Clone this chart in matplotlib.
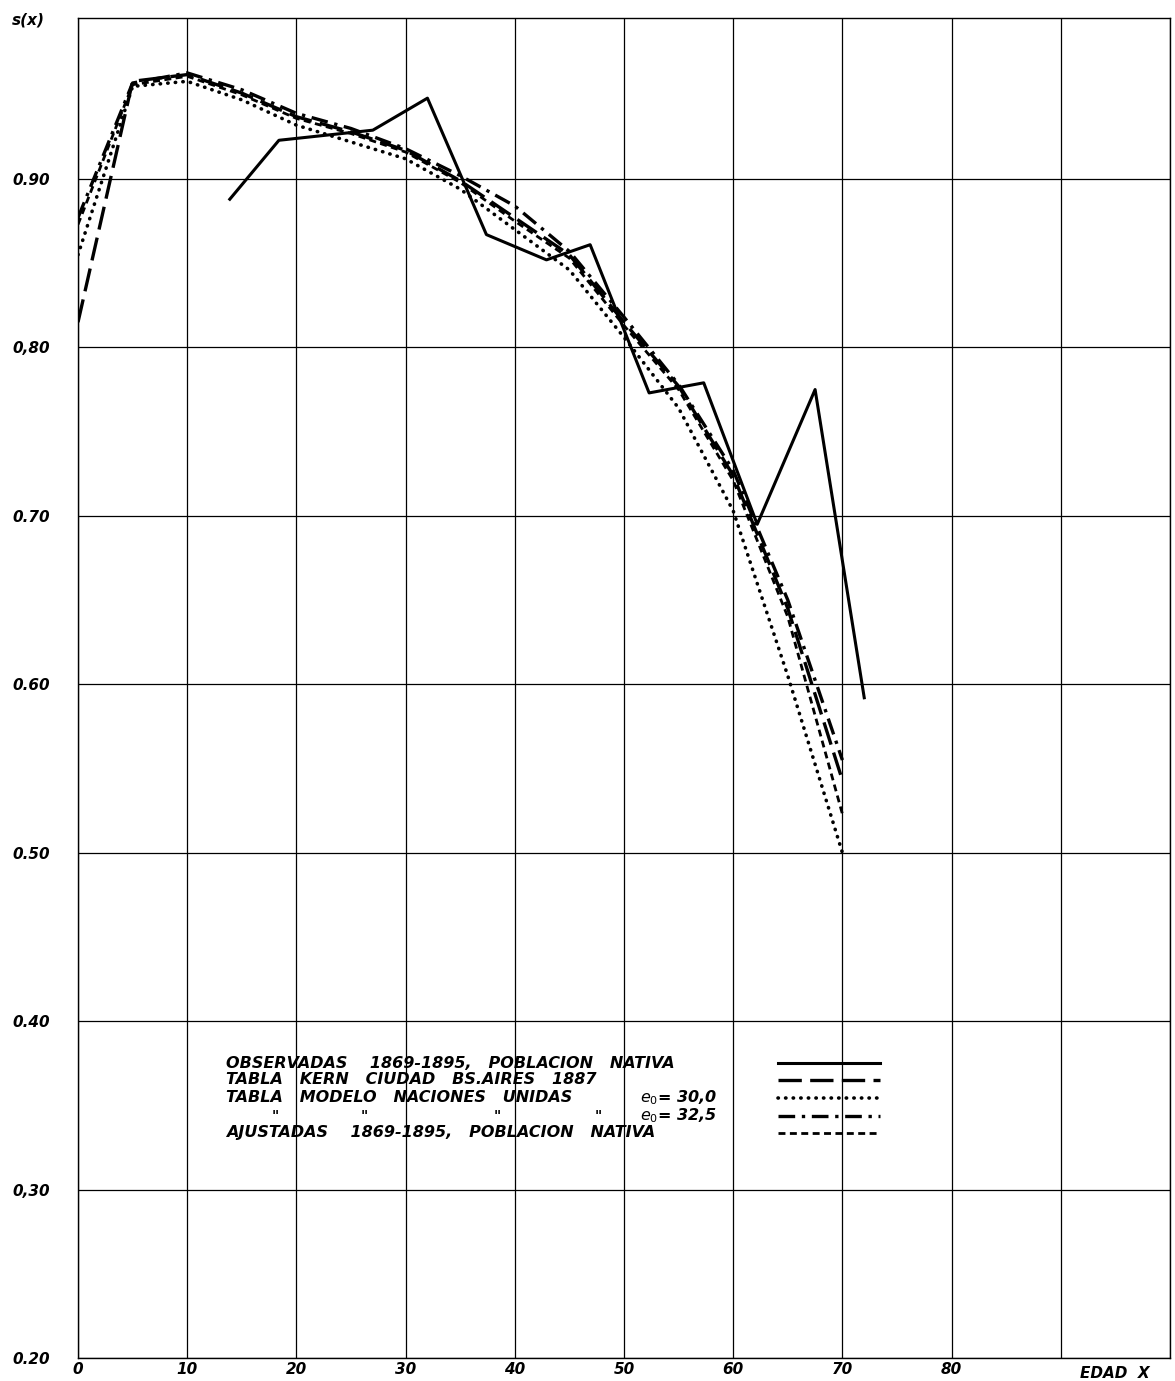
import matplotlib
matplotlib.use("Agg")
import matplotlib.pyplot as plt

# survival ratios s(x) by age
ages = [0, 5, 10, 15, 20, 25, 30, 35, 40, 45, 50, 55, 60, 65, 70]
kern = [0.815, 0.958, 0.962, 0.951, 0.937, 0.928, 0.917, 0.899, 0.877, 0.855, 0.815, 0.777, 0.724, 0.645, 0.543]
un_30 = [0.855, 0.955, 0.958, 0.947, 0.932, 0.922, 0.912, 0.894, 0.870, 0.846, 0.806, 0.764, 0.703, 0.605, 0.500]
un_325 = [0.877, 0.957, 0.963, 0.953, 0.939, 0.930, 0.918, 0.902, 0.884, 0.857, 0.818, 0.778, 0.727, 0.650, 0.555]
ajust = [0.873, 0.956, 0.961, 0.950, 0.936, 0.927, 0.916, 0.898, 0.875, 0.853, 0.813, 0.775, 0.721, 0.640, 0.523]

obs_x = [13.9, 18.4, 22.7, 27.0, 32.0, 37.4, 42.9, 46.9, 52.3, 57.3, 62.2, 67.5, 72.0]
obs_y = [0.888, 0.923, 0.926, 0.929, 0.948, 0.867, 0.852, 0.861, 0.773, 0.779, 0.695, 0.775, 0.592]

xticks = [0, 10, 20, 30, 40, 50, 60, 70, 80]
yticks = [0.20, 0.30, 0.40, 0.50, 0.60, 0.70, 0.80, 0.90]
ylabels = ['0.20', '0,30', '0.40', '0.50', '0.60', '0.70', '0,80', '0.90']

legend_texts = [
    'OBSERVADAS    1869-1895,   POBLACION   NATIVA',
    'TABLA   KERN   CIUDAD   BS.AIRES   1887',
    'TABLA   MODELO   NACIONES   UNIDAS',
    '',
    'AJUSTADAS    1869-1895,   POBLACION   NATIVA',
]

font = dict(family='DejaVu Sans', style='italic', weight='bold')

fig = plt.figure(figsize=(11.75, 13.81), dpi=100)
ax = fig.add_axes([78/1175, 1 - 1358/1381, (1170-78)/1175, (1358-18)/1381])

ax.set_xlim(0, 100)
ax.set_ylim(0.20, 0.9956)
ax.set_xticks(range(0, 101, 10))
ax.set_yticks(yticks)
ax.grid(True, color='black', lw=0.9)
for s in ax.spines.values():
    s.set_linewidth(1.0)
ax.tick_params(length=0)
ax.set_xticklabels([str(t) if t in xticks else '' for t in range(0, 101, 10)], fontsize=11, **font)
ax.set_yticklabels(ylabels, fontsize=11, **font)
ax.tick_params(axis='x', pad=3)
ax.tick_params(axis='y', pad=20)

lw = 2.4
dot = dict(dashes=(0.1, 2.0), dash_capstyle='round', lw=2.6)
l1, = ax.plot(obs_x, obs_y, color='black', lw=2.2, ls='-')
l2, = ax.plot(ages, kern, color='black', lw=lw, dashes=(7, 2.5))
l3, = ax.plot(ages, un_30, color='black', **dot)
l4, = ax.plot(ages, un_325, color='black', lw=lw, dashes=(5, 2, 1, 2))
l5, = ax.plot(ages, ajust, color='black', lw=2.0, dashes=(2.5, 1.6))

fig.text(12/1175, 1 - 20/1381, 's(x)', fontsize=11, va='center', **font)
fig.text(1115/1175, 1 - 1374/1381, 'EDAD  X', fontsize=11, ha='center', va='center', **font)

# hand lettered legend
rows = [1063, 1080, 1098, 1116, 1133]
styles = [dict(ls='-', lw=2.2), dict(dashes=(7, 2.5), lw=lw), dot,
          dict(dashes=(5, 2, 1, 2), lw=lw), dict(dashes=(2.5, 1.6), lw=2.0)]
for yy, txt, st in zip(rows, legend_texts, styles):
    fy = 1 - yy / 1381
    fig.text(226/1175, fy, txt, fontsize=11.5, va='center', **font)
    fig.add_artist(plt.Line2D([778/1175, 880/1175], [fy, fy], color='black', transform=fig.transFigure, **st))

fig.text(640/1175, 1 - rows[2]/1381, '$e_0$= 30,0', fontsize=11.5, va='center', **font)
fig.text(640/1175, 1 - rows[3]/1381, '$e_0$= 32,5', fontsize=11.5, va='center', **font)
for xx in [272, 361, 494, 595]:
    fig.text(xx/1175, 1 - rows[3]/1381, '"', fontsize=10, va='center', **font)

fig.savefig('out.png', dpi=100)
